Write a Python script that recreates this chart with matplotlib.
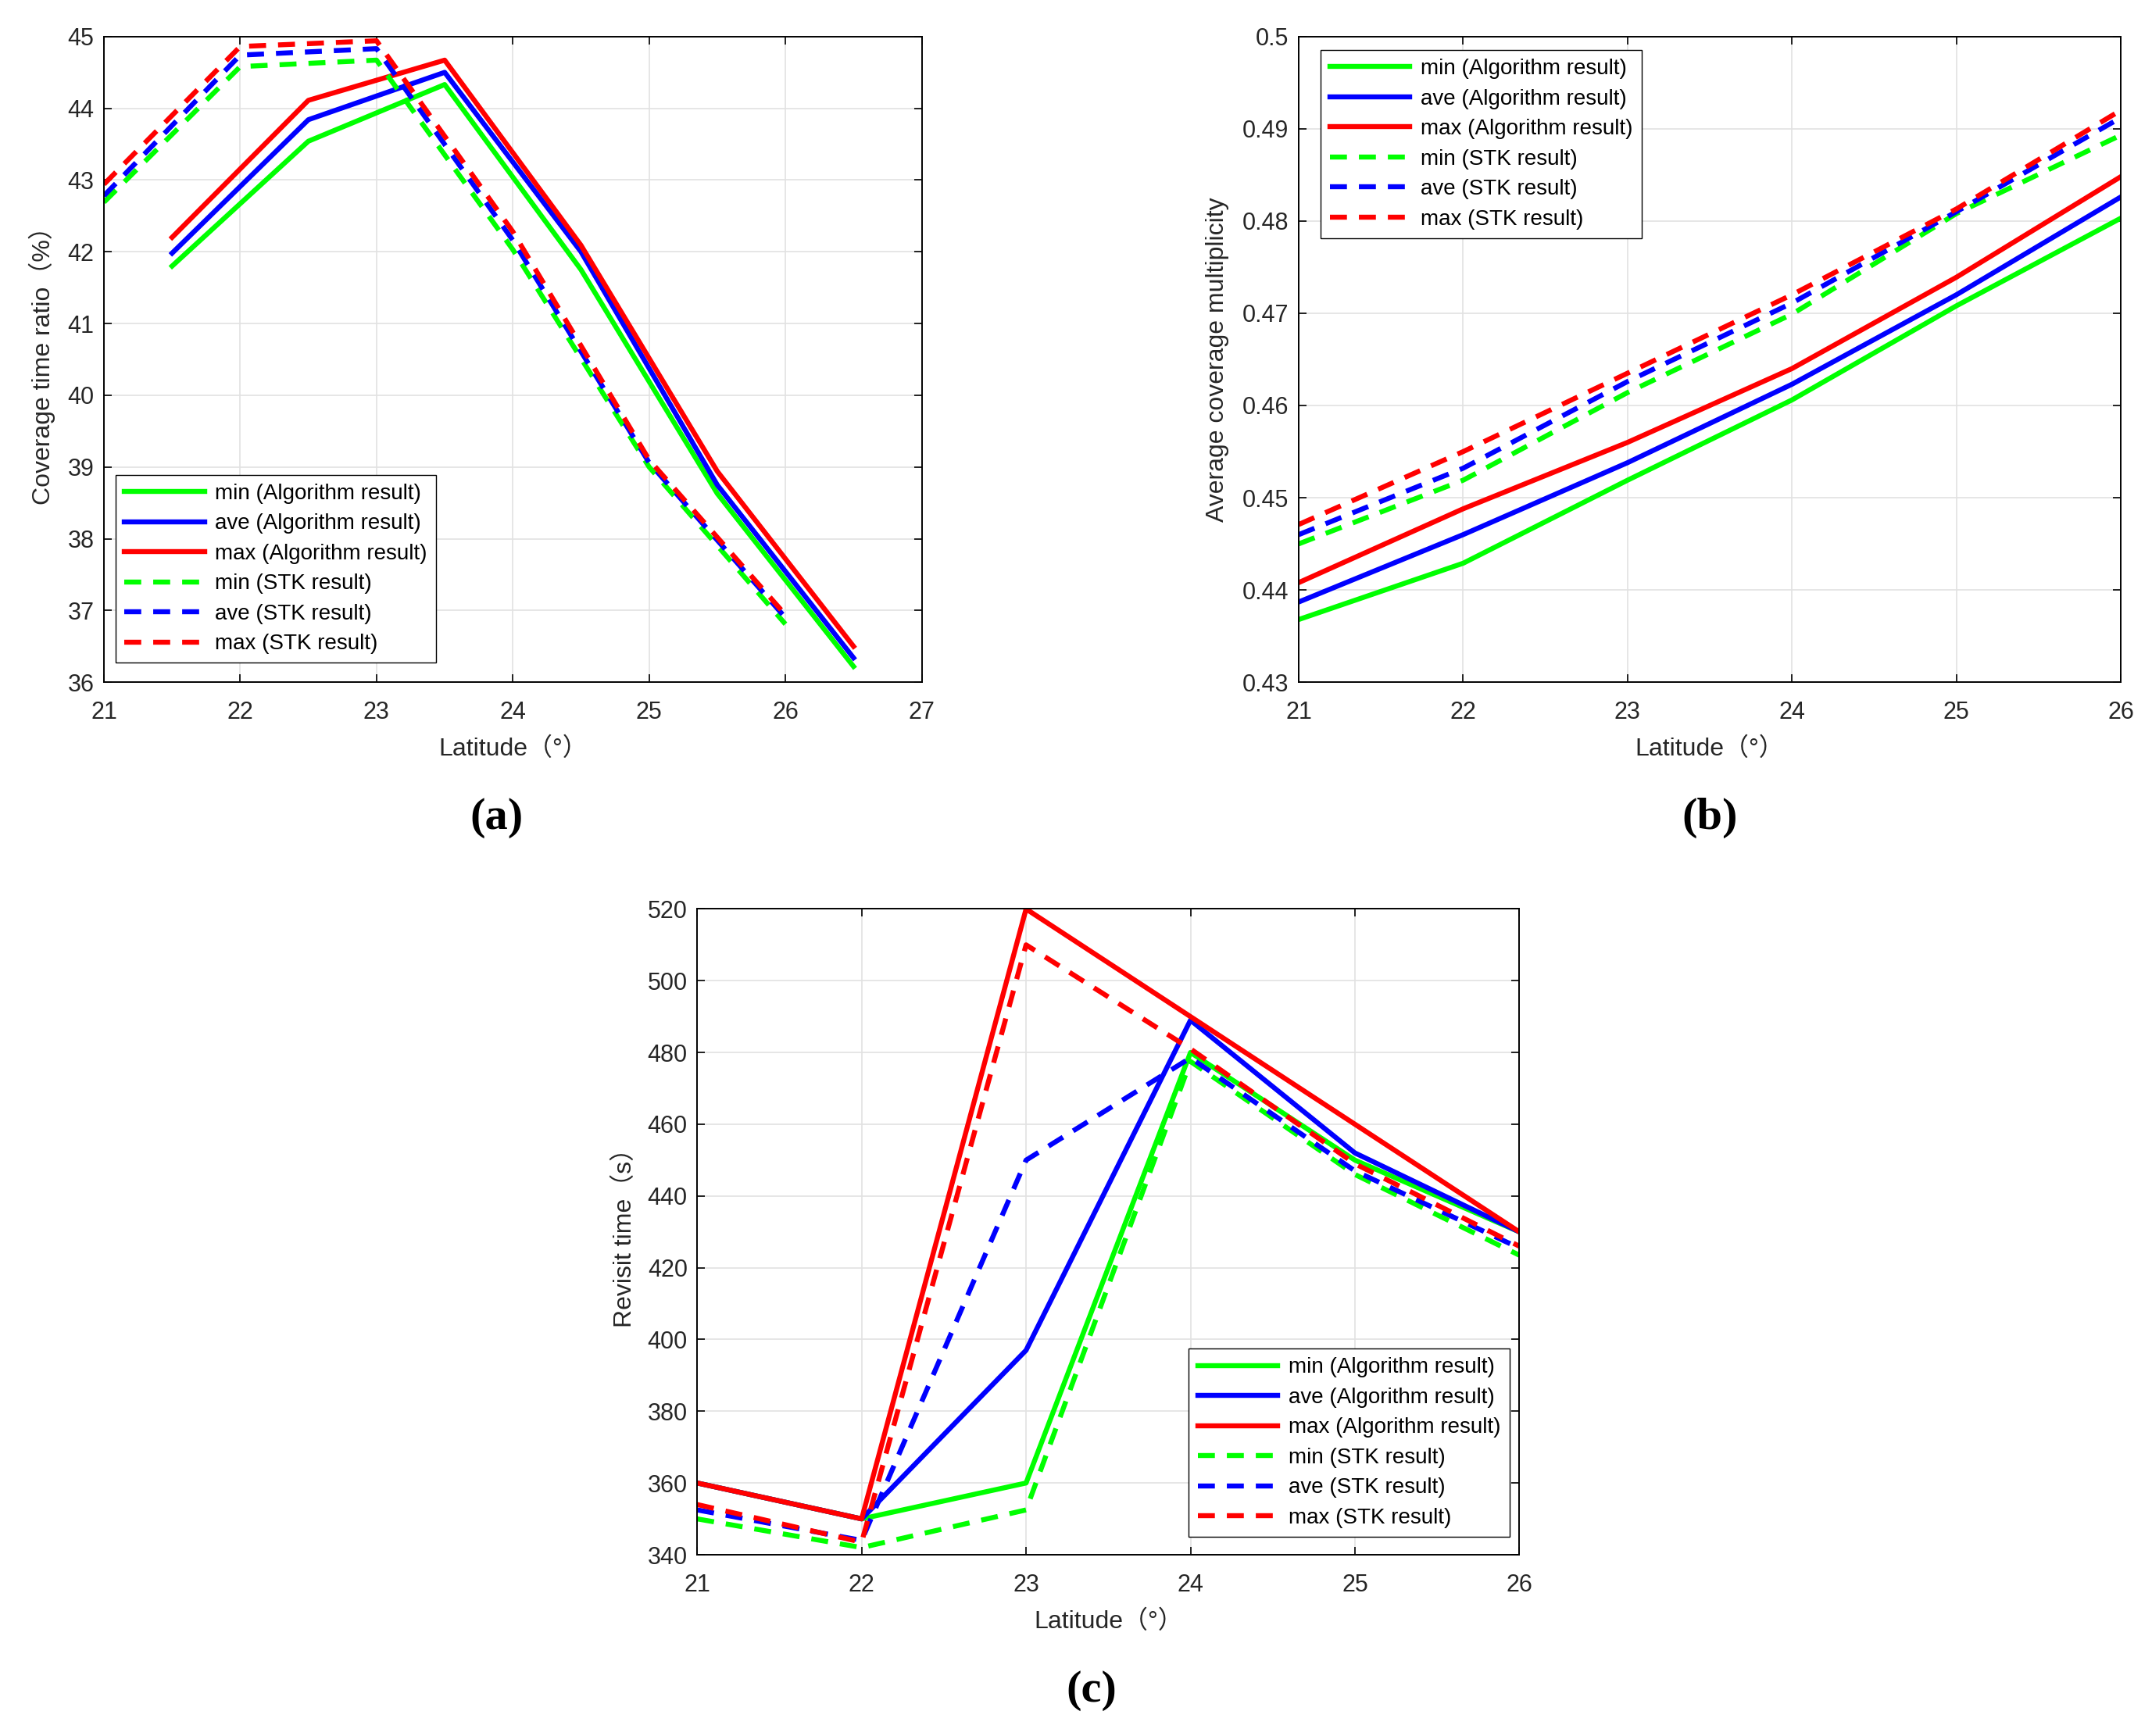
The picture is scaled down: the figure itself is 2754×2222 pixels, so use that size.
import matplotlib
matplotlib.use("Agg")
import matplotlib.pyplot as plt

plt.rcParams['font.family'] = ['Liberation Sans', 'Noto Sans CJK SC', 'DejaVu Sans']

# (a) coverage time ratio
lat_a_alg = [21.5, 22.5, 23.5, 24.5, 25.5, 26.5]
lat_a_stk = [21, 22, 23, 24, 25, 26]
a_min_alg = [41.80, 43.54, 44.33, 41.75, 38.63, 36.22]
a_ave_alg = [41.98, 43.84, 44.50, 42.00, 38.75, 36.34]
a_max_alg = [42.20, 44.11, 44.67, 42.09, 38.94, 36.50]
a_min_stk = [42.69, 44.58, 44.67, 42.03, 39.00, 36.81]
a_ave_stk = [42.78, 44.74, 44.83, 42.16, 39.06, 36.90]
a_max_stk = [42.94, 44.86, 44.94, 42.28, 39.10, 36.94]

# (b) average coverage multiplicity
lat_b = [21, 22, 23, 24, 25, 26]
b_min_alg = [0.4368, 0.4429, 0.4519, 0.4606, 0.4708, 0.4803]
b_ave_alg = [0.4387, 0.4460, 0.4538, 0.4623, 0.4720, 0.4826]
b_max_alg = [0.4408, 0.4488, 0.4560, 0.4640, 0.4739, 0.4848]
b_min_stk = [0.4450, 0.4519, 0.4614, 0.4699, 0.4808, 0.4893]
b_ave_stk = [0.4460, 0.4532, 0.4626, 0.4711, 0.4810, 0.4912]
b_max_stk = [0.4471, 0.4550, 0.4635, 0.4720, 0.4813, 0.4920]

# (c) revisit time
lat_c = [21, 22, 23, 24, 25, 26]
c_min_alg = [360, 350, 360, 480, 450, 430]
c_ave_alg = [360, 350, 397, 489, 452, 430]
c_max_alg = [360, 350, 520, 490, 460, 430]
c_min_stk = [350, 342, 352.5, 477.5, 446, 423.5]
c_ave_stk = [352.5, 344, 450, 478.5, 447, 425.5]
c_max_stk = [354, 343.5, 510, 481, 449, 426]

names = ["min (Algorithm result)", "ave (Algorithm result)", "max (Algorithm result)",
         "min (STK result)", "ave (STK result)", "max (STK result)"]
cols = ["#00ff00", "#0000ff", "#ff0000"]


def drawPanel(ax, x_alg, x_stk, alg, stk):
    for y, c, n in zip(alg, cols, names[:3]):
        ax.plot(x_alg, y, color=c, lw=4.6, label=n)
    for y, c, n in zip(stk, cols, names[3:]):
        ax.plot(x_stk, y, color=c, lw=4.6, ls=(0, (3.4, 2.4)), label=n)
    ax.grid(True, color="#e2e2e2", lw=1.2)
    ax.set_axisbelow(True)
    ax.tick_params(direction="in", length=7, width=1.2, top=True, right=True, labelsize=22,
                   labelcolor="#262626")
    ax.tick_params(axis="x", pad=17)
    ax.tick_params(axis="y", pad=9)
    for s in ax.spines.values():
        s.set_linewidth(1.4)
    ax.set_xlabel("Latitude（°）", fontsize=23, color="#262626", labelpad=12)


def drawLegend(ax, loc, anchor):
    ax.legend(loc=loc, bbox_to_anchor=anchor, fontsize=20, handlelength=3.7,
              labelspacing=0.45, fancybox=False, edgecolor="black", framealpha=1,
              borderaxespad=0, borderpad=0.4, handletextpad=0.5)


def drawTag(ax, x, tag):
    ax.text(x, -0.21, tag, transform=ax.transAxes, ha="center", va="center",
            fontsize=42, fontweight="bold", family="Liberation Serif")


fig = plt.figure(figsize=(27.54, 22.22), dpi=100)

axA = fig.add_axes([0.0483, 0.607, 0.380, 0.372])
drawPanel(axA, lat_a_alg, lat_a_stk, [a_min_alg, a_ave_alg, a_max_alg], [a_min_stk, a_ave_stk, a_max_stk])
axA.set_xlim(21, 27)
axA.set_ylim(36, 45)
axA.set_yticks(range(36, 46))
axA.set_ylabel("Coverage time ratio（%）", fontsize=23, color="#262626", labelpad=11)
drawLegend(axA, "lower left", (0.014, 0.03))
drawTag(axA, 0.48, "(a)")

axB = fig.add_axes([0.6035, 0.607, 0.382, 0.372])
drawPanel(axB, lat_b, lat_b, [b_min_alg, b_ave_alg, b_max_alg], [b_min_stk, b_ave_stk, b_max_stk])
axB.set_xlim(21, 26)
axB.set_ylim(0.43, 0.5)
axB.set_yticks([0.43, 0.44, 0.45, 0.46, 0.47, 0.48, 0.49, 0.5])
axB.set_yticklabels(["0.43", "0.44", "0.45", "0.46", "0.47", "0.48", "0.49", "0.5"])
axB.set_ylabel("Average coverage multiplicity", fontsize=23, color="#262626", labelpad=12)
drawLegend(axB, "upper left", (0.027, 0.979))
drawTag(axB, 0.5, "(b)")

axC = fig.add_axes([0.324, 0.1044, 0.382, 0.372])
drawPanel(axC, lat_c, lat_c, [c_min_alg, c_ave_alg, c_max_alg], [c_min_stk, c_ave_stk, c_max_stk])
axC.set_xlim(21, 26)
axC.set_ylim(340, 520)
axC.set_yticks(range(340, 521, 20))
axC.set_ylabel("Revisit time（s）", fontsize=23, color="#262626", labelpad=10)
drawLegend(axC, "lower left", (0.598, 0.028))
drawTag(axC, 0.48, "(c)")

fig.savefig("out.png", dpi=100)
